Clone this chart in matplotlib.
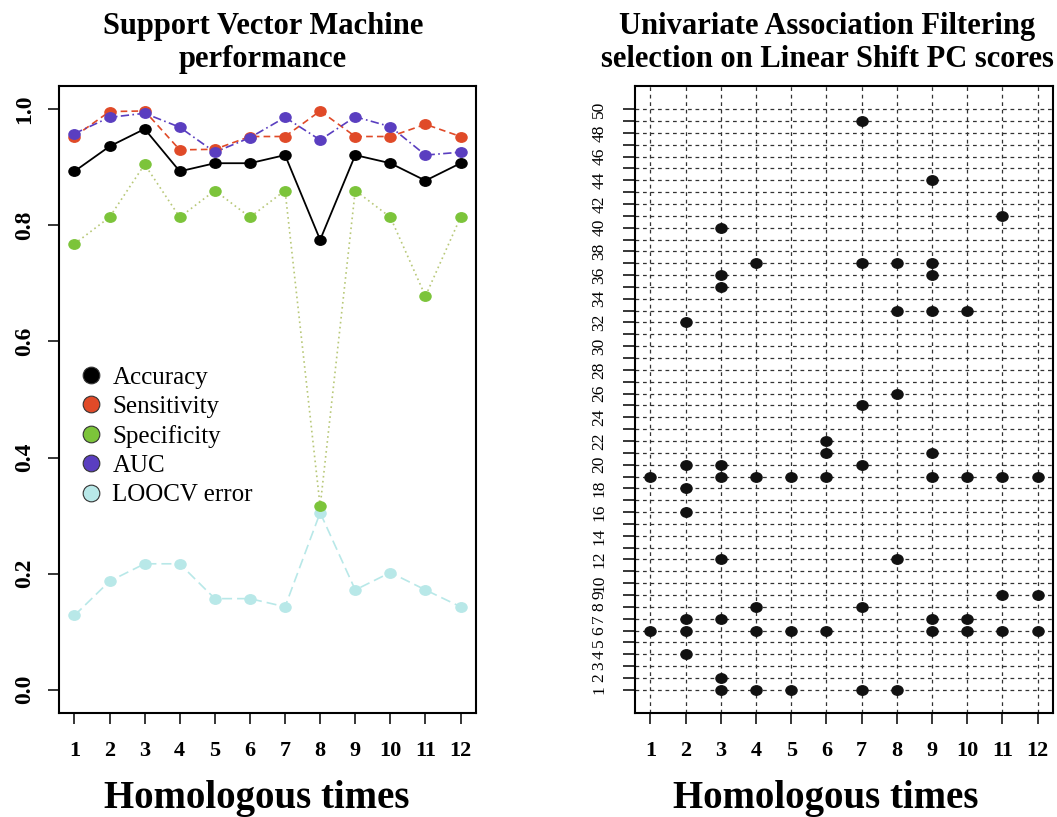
import numpy as np
import matplotlib.pyplot as plt
from matplotlib.path import Path
from matplotlib.transforms import Affine2D
from matplotlib.lines import Line2D

plt.rcParams['font.family'] = ['Liberation Serif', 'DejaVu Serif']

# data
times = [1, 2, 3, 4, 5, 6, 7, 8, 9, 10, 11, 12]
accuracy = [0.893, 0.936, 0.966, 0.893, 0.907, 0.907, 0.921, 0.775, 0.921, 0.907, 0.877, 0.907]
sensitivity = [0.953, 0.996, 0.997, 0.930, 0.931, 0.953, 0.953, 0.997, 0.953, 0.953, 0.974, 0.953]
specificity = [0.768, 0.814, 0.905, 0.814, 0.860, 0.814, 0.860, 0.316, 0.860, 0.814, 0.678, 0.814]
auc = [0.958, 0.986, 0.993, 0.969, 0.926, 0.951, 0.986, 0.947, 0.987, 0.970, 0.921, 0.926]
loocv_error = [0.128, 0.187, 0.217, 0.217, 0.157, 0.157, 0.143, 0.305, 0.172, 0.202, 0.172, 0.143]

# PC scores selected at each homologous time
selected = [
    [19, 6],
    [32, 20, 18, 16, 7, 6, 4],
    [40, 36, 35, 20, 19, 12, 7, 2, 1],
    [37, 19, 8, 6, 1],
    [19, 6, 1],
    [22, 21, 19, 6],
    [49, 37, 25, 20, 8, 1],
    [37, 33, 26, 12, 1],
    [44, 37, 36, 33, 21, 19, 7, 6],
    [33, 19, 7, 6],
    [41, 19, 9, 6],
    [19, 9, 6],
]
pc_ticks = list(range(1, 51))
pc_labels = [str(v) if v <= 10 or v % 2 == 0 else '' for v in pc_ticks]

W, H = 1057, 817
fig = plt.figure(figsize=(W / 100, H / 100), dpi=100)
ax1 = fig.add_axes([59 / W, 1 - 713 / H, 417 / W, 627 / H])
ax2 = fig.add_axes([635 / W, 1 - 713 / H, 418 / W, 627 / H])

# slightly flattened dots, like the reference
oval = Path.unit_circle().transformed(Affine2D().scale(1.0, 0.85))

series = [
    (accuracy, 'Accuracy', 'black', '-', 1.3, 'black'),
    (sensitivity, 'Sensitivity', '#e04a28', (0, (4, 2.5)), 1.2, '#e04a28'),
    (specificity, 'Specificity', '#7cc43a', (0, (1, 2)), 1.2, '#b8c878'),
    (auc, 'AUC', '#5a3ec0', (0, (5, 2, 1, 2)), 1.2, '#5a3ec0'),
    (loocv_error, 'LOOCV error', '#b8e8e8', (0, (6, 3)), 1.2, '#b8e8e8'),
]

# LOOCV drawn first so the other dots sit on top of it
for vals, lab, col, ls, lw, lcol in [series[4]] + series[:4]:
    ax1.plot(times, vals, color=lcol, ls=ls, lw=lw, zorder=2)
    ax1.plot(times, vals, ls='none', marker=oval, ms=8, mfc=col, mec=col, zorder=3)

ax1.set_xlim(0.56, 12.44)
ax1.set_ylim(-0.04, 1.04)
ax1.set_xticks(times)
ax1.set_xticklabels([str(t) for t in times], fontsize=16, fontweight='bold')
ax1.set_yticks([0.0, 0.2, 0.4, 0.6, 0.8, 1.0])
ax1.set_yticklabels(['0.0', '0.2', '0.4', '0.6', '0.8', '1.0'], fontsize=17,
                    fontweight='bold', rotation=90, va='center')
ax1.tick_params(axis='x', direction='out', length=8, width=1.1, pad=12)
ax1.tick_params(axis='y', direction='out', length=8, width=1.1, pad=9)

handles = [Line2D([], [], ls='none', marker='o', ms=12, mfc=s[2], mec='#333333', mew=0.8)
           for s in series]
ax1.legend(handles, [s[1] for s in series], loc='upper left',
           bbox_to_anchor=(0.047, 0.553), frameon=False, fontsize=18,
           handlelength=1.0, handletextpad=0.35, borderpad=0, borderaxespad=0,
           labelspacing=0.27)

# right panel: selected PC scores
for t in times:
    ax2.axvline(t, color='#333333', lw=0.9, ls=(0, (3, 3)), zorder=1)
for v in pc_ticks:
    ax2.axhline(v, color='#333333', lw=0.9, ls=(0, (3, 3)), zorder=1)
for t, pcs in zip(times, selected):
    ax2.plot([t] * len(pcs), pcs, ls='none', marker=oval, ms=8, mfc='#111111',
             mec='#111111', zorder=3)

ax2.set_xlim(0.56, 12.44)
ax2.set_ylim(-0.96, 51.96)
ax2.set_xticks(times)
ax2.set_xticklabels([str(t) for t in times], fontsize=16, fontweight='bold')
ax2.set_yticks(pc_ticks)
ax2.set_yticklabels(pc_labels, fontsize=12.5, rotation=90, va='center')
ax2.tick_params(axis='x', direction='out', length=8, width=1.1, pad=12)
ax2.tick_params(axis='y', direction='out', length=9, width=1.1, pad=11)

for ax in (ax1, ax2):
    for sp in ax.spines.values():
        sp.set_linewidth(1.5)

# titles and axis labels
fig.text(263 / W, 1 - 34 / H, 'Support Vector Machine', ha='center', va='baseline',
         fontsize=22, fontweight='bold')
fig.text(263 / W, 1 - 67 / H, 'performance', ha='center', va='baseline',
         fontsize=22, fontweight='bold')
fig.text(827 / W, 1 - 34 / H, 'Univariate Association Filtering', ha='center',
         va='baseline', fontsize=22, fontweight='bold')
fig.text(827 / W, 1 - 67 / H, 'selection on Linear Shift PC scores', ha='center',
         va='baseline', fontsize=22, fontweight='bold')
fig.text(257 / W, 1 - 808 / H, 'Homologous times', ha='center', va='baseline',
         fontsize=28, fontweight='bold')
fig.text(826 / W, 1 - 808 / H, 'Homologous times', ha='center', va='baseline',
         fontsize=28, fontweight='bold')

fig.savefig('out.png', dpi=100)
